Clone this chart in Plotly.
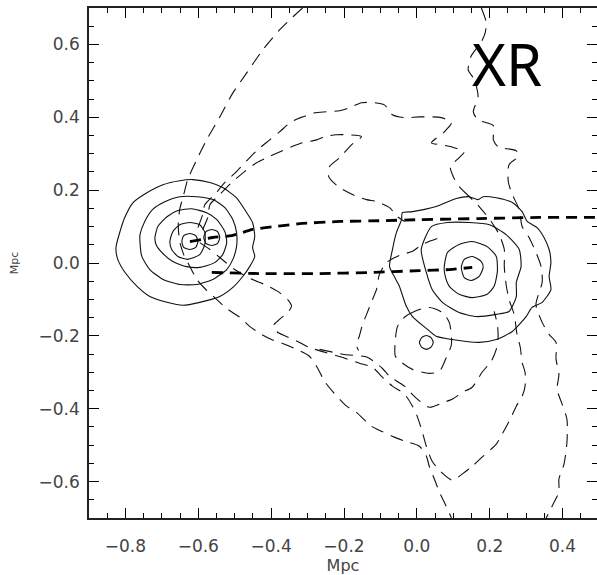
import plotly.graph_objects as go

# ---------------- data (Mpc) ----------------
# solid contours, left cluster
left_ring_1 = [(-0.826, 0.042), (-0.815, 0.086), (-0.801, 0.127), (-0.779, 0.166), (-0.741, 0.193),
               (-0.697, 0.215), (-0.651, 0.226), (-0.615, 0.229), (-0.568, 0.221), (-0.533, 0.207),
               (-0.495, 0.179), (-0.467, 0.138), (-0.451, 0.111), (-0.445, 0.073), (-0.451, 0.042),
               (-0.445, 0.018), (-0.459, -0.010), (-0.478, -0.037), (-0.505, -0.067), (-0.541, -0.092),
               (-0.596, -0.108), (-0.642, -0.116), (-0.686, -0.108), (-0.733, -0.092), (-0.768, -0.064),
               (-0.801, -0.026), (-0.821, 0.010), (-0.826, 0.042)]
left_ring_2 = [(-0.760, 0.078), (-0.747, 0.114), (-0.725, 0.147), (-0.692, 0.168), (-0.651, 0.182),
               (-0.604, 0.182), (-0.560, 0.174), (-0.527, 0.152), (-0.505, 0.119), (-0.495, 0.084),
               (-0.495, 0.045), (-0.505, 0.010), (-0.522, -0.018), (-0.560, -0.045), (-0.604, -0.059),
               (-0.651, -0.059), (-0.697, -0.045), (-0.733, -0.018), (-0.755, 0.018), (-0.760, 0.056),
               (-0.760, 0.078)]
left_ring_3 = [(-0.719, 0.070), (-0.711, 0.100), (-0.686, 0.127), (-0.656, 0.144), (-0.618, 0.149),
               (-0.577, 0.138), (-0.549, 0.119), (-0.527, 0.086), (-0.522, 0.056), (-0.533, 0.023),
               (-0.555, 0.001), (-0.596, -0.012), (-0.632, -0.010), (-0.670, 0.004), (-0.700, 0.029),
               (-0.716, 0.051), (-0.719, 0.070)]
left_ring_4 = [(-0.678, 0.059), (-0.670, 0.086), (-0.651, 0.105), (-0.623, 0.111), (-0.596, 0.105),
               (-0.582, 0.084), (-0.582, 0.051), (-0.596, 0.023), (-0.629, 0.010), (-0.656, 0.018),
               (-0.673, 0.037), (-0.678, 0.059)]
left_core = [(-0.645, 0.059), (-0.640, 0.075), (-0.623, 0.081), (-0.607, 0.075), (-0.601, 0.059),
             (-0.607, 0.043), (-0.623, 0.037), (-0.640, 0.043), (-0.645, 0.059)]
left_sub_core = [(-0.585, 0.070), (-0.579, 0.086), (-0.563, 0.092), (-0.547, 0.086), (-0.541, 0.070),
                 (-0.547, 0.054), (-0.563, 0.048), (-0.579, 0.054), (-0.585, 0.070)]

# solid contours, right cluster
right_ring_1 = [(-0.040, 0.138), (-0.012, 0.141), (0.053, 0.155), (0.108, 0.177), (0.144, 0.182),
                (0.168, 0.174), (0.182, 0.182), (0.218, 0.179), (0.262, 0.166), (0.289, 0.141),
                (0.303, 0.114), (0.330, 0.097), (0.349, 0.070), (0.363, 0.037), (0.368, 0.001),
                (0.363, -0.037), (0.368, -0.073), (0.344, -0.108), (0.316, -0.122), (0.300, -0.147),
                (0.262, -0.188), (0.218, -0.210), (0.171, -0.218), (0.097, -0.210), (0.053, -0.201),
                (0.029, -0.182), (-0.012, -0.147), (-0.029, -0.119), (-0.048, -0.064), (-0.062, -0.037),
                (-0.075, -0.010), (-0.067, 0.037), (-0.056, 0.084), (-0.042, 0.119), (-0.040, 0.138)]
right_ring_2 = [(0.012, 0.037), (0.040, 0.100), (0.084, 0.111), (0.144, 0.111), (0.199, 0.105),
                (0.245, 0.078), (0.281, 0.037), (0.286, -0.010), (0.273, -0.053), (0.273, -0.092),
                (0.253, -0.133), (0.218, -0.141), (0.163, -0.147), (0.116, -0.136), (0.070, -0.108),
                (0.042, -0.073), (0.026, -0.026), (0.012, 0.037)]
right_ring_3 = [(0.075, -0.012), (0.084, 0.029), (0.116, 0.051), (0.152, 0.059), (0.193, 0.045),
                (0.218, 0.018), (0.221, -0.023), (0.212, -0.064), (0.193, -0.086), (0.152, -0.095),
                (0.116, -0.086), (0.089, -0.064), (0.078, -0.037), (0.075, -0.012)]
right_core = [(0.122, -0.012), (0.130, 0.010), (0.152, 0.018), (0.177, 0.004), (0.182, -0.012),
              (0.171, -0.037), (0.149, -0.048), (0.130, -0.040), (0.122, -0.012)]
small_clump = [(0.007, -0.218), (0.013, -0.205), (0.026, -0.199), (0.039, -0.205), (0.045, -0.218),
               (0.039, -0.231), (0.026, -0.237), (0.013, -0.231), (0.007, -0.218)]

# thin dashed contours
arc_top_to_bottom = [(-0.314, 0.700), (-0.341, 0.675), (-0.377, 0.640), (-0.423, 0.585), (-0.467, 0.522),
                     (-0.505, 0.467), (-0.541, 0.401), (-0.577, 0.338), (-0.604, 0.284), (-0.629, 0.229),
                     (-0.640, 0.188), (-0.651, 0.147), (-0.655, 0.105), (-0.651, 0.059), (-0.640, 0.023),
                     (-0.623, -0.010), (-0.604, -0.045), (-0.582, -0.070), (-0.555, -0.095), (-0.522, -0.125),
                     (-0.486, -0.149), (-0.459, -0.174), (-0.426, -0.196), (-0.399, -0.210), (-0.363, -0.223),
                     (-0.330, -0.237), (-0.295, -0.256), (-0.275, -0.284), (-0.253, -0.325), (-0.232, -0.352),
                     (-0.193, -0.393), (-0.166, -0.410), (-0.125, -0.448), (-0.097, -0.462), (-0.062, -0.478),
                     (-0.034, -0.489), (0.007, -0.503), (0.026, -0.530), (0.034, -0.558), (0.048, -0.593),
                     (0.062, -0.629), (0.075, -0.656), (0.095, -0.700)]
upper_outer = [(-0.601, 0.097), (-0.588, 0.133), (-0.582, 0.160), (-0.555, 0.188), (-0.527, 0.221),
               (-0.495, 0.251), (-0.464, 0.284), (-0.437, 0.311), (-0.404, 0.338), (-0.377, 0.360),
               (-0.344, 0.388), (-0.314, 0.401), (-0.281, 0.412), (-0.248, 0.415), (-0.212, 0.418),
               (-0.185, 0.426), (-0.152, 0.440), (-0.116, 0.440), (-0.089, 0.434), (-0.067, 0.407),
               (-0.034, 0.399), (0.007, 0.401), (0.067, 0.399), (0.095, 0.385), (0.073, 0.358),
               (0.040, 0.330), (0.064, 0.325), (0.095, 0.319), (0.130, 0.305), (0.116, 0.289),
               (0.092, 0.264), (0.100, 0.237), (0.116, 0.210), (0.138, 0.188)]
upper_inner = [(-0.588, 0.092), (-0.574, 0.125), (-0.568, 0.160), (-0.541, 0.188), (-0.508, 0.221),
               (-0.473, 0.251), (-0.440, 0.275), (-0.412, 0.289), (-0.377, 0.305), (-0.344, 0.319),
               (-0.314, 0.330), (-0.275, 0.338), (-0.253, 0.347), (-0.221, 0.352), (-0.190, 0.352),
               (-0.152, 0.347), (-0.179, 0.325), (-0.212, 0.289), (-0.240, 0.264), (-0.242, 0.237),
               (-0.234, 0.226), (-0.212, 0.207), (-0.171, 0.185), (-0.138, 0.174), (-0.108, 0.168),
               (-0.075, 0.152), (-0.053, 0.127), (-0.034, 0.114)]
lower_loop = [(-0.596, 0.056), (-0.568, 0.037), (-0.541, 0.015), (-0.500, -0.018), (-0.459, -0.042),
              (-0.418, -0.059), (-0.382, -0.078), (-0.355, -0.100), (-0.344, -0.119), (-0.355, -0.136),
              (-0.377, -0.155), (-0.393, -0.171), (-0.385, -0.188), (-0.360, -0.201), (-0.322, -0.218),
              (-0.295, -0.232), (-0.253, -0.245), (-0.226, -0.253), (-0.190, -0.264), (-0.158, -0.275),
              (-0.122, -0.286), (-0.097, -0.311), (-0.067, -0.338), (-0.034, -0.360), (-0.012, -0.393),
              (0.001, -0.421), (0.015, -0.464), (0.026, -0.503), (0.042, -0.544), (0.070, -0.577),
              (0.097, -0.596), (0.125, -0.579), (0.152, -0.558), (0.179, -0.533), (0.218, -0.497),
              (0.234, -0.470), (0.259, -0.423), (0.273, -0.393), (0.289, -0.366), (0.297, -0.338),
              (0.297, -0.300), (0.289, -0.273), (0.284, -0.232), (0.275, -0.196), (0.267, -0.141),
              (0.253, -0.100), (0.245, -0.059), (0.240, -0.010), (0.240, 0.037), (0.226, 0.078),
              (0.204, 0.114), (0.171, 0.155), (0.138, 0.188)]
lower_inner = [(-0.267, -0.237), (-0.199, -0.251), (-0.136, -0.259), (-0.095, -0.289), (-0.075, -0.311),
               (-0.034, -0.338), (-0.007, -0.366), (0.034, -0.396), (0.075, -0.382), (0.097, -0.374),
               (0.125, -0.355), (0.152, -0.341), (0.179, -0.300), (0.204, -0.270), (0.218, -0.237),
               (0.223, -0.204), (0.221, -0.168), (0.212, -0.133)]
middle_branch = [(0.056, 0.067), (0.015, 0.051), (-0.012, 0.032), (-0.048, 0.021), (-0.084, 0.001),
                 (-0.103, -0.032), (-0.111, -0.073), (-0.125, -0.108), (-0.138, -0.141), (-0.149, -0.168),
                 (-0.158, -0.201), (-0.166, -0.226), (-0.160, -0.240)]
clump_loop = [(0.034, -0.122), (-0.007, -0.133), (-0.034, -0.149), (-0.053, -0.174), (-0.059, -0.210),
              (-0.059, -0.256), (-0.042, -0.273), (-0.012, -0.292), (0.034, -0.303), (0.062, -0.297),
              (0.081, -0.259), (0.095, -0.223), (0.089, -0.163), (0.070, -0.136), (0.034, -0.122)]
right_edge_line = [(0.177, 0.700), (0.190, 0.662), (0.188, 0.634), (0.177, 0.607), (0.149, 0.568),
                   (0.141, 0.530), (0.158, 0.503), (0.168, 0.456), (0.155, 0.415), (0.168, 0.393),
                   (0.210, 0.377), (0.210, 0.338), (0.223, 0.319), (0.273, 0.308), (0.278, 0.292),
                   (0.253, 0.270), (0.251, 0.223), (0.262, 0.188), (0.281, 0.147), (0.289, 0.100),
                   (0.308, 0.070), (0.327, 0.029), (0.341, -0.010), (0.344, -0.053), (0.327, -0.114),
                   (0.344, -0.163), (0.363, -0.196), (0.382, -0.218), (0.382, -0.264), (0.390, -0.305),
                   (0.385, -0.347), (0.399, -0.388), (0.412, -0.429), (0.412, -0.492), (0.404, -0.552),
                   (0.390, -0.593), (0.390, -0.629), (0.377, -0.656), (0.355, -0.700)]

# thick dashed tracks
track_upper = [(-0.623, 0.059), (-0.560, 0.070), (-0.508, 0.075), (-0.451, 0.092), (-0.390, 0.100),
               (-0.322, 0.108), (-0.212, 0.114), (-0.103, 0.116), (0.007, 0.119), (0.171, 0.122),
               (0.336, 0.125), (0.500, 0.125)]
track_lower = [(-0.563, -0.026), (-0.432, -0.029), (-0.267, -0.029), (-0.130, -0.026), (0.007, -0.021),
               (0.089, -0.018), (0.152, -0.012)]

solid_contours = [left_ring_1, left_ring_2, left_ring_3, left_ring_4, left_core, left_sub_core,
                  right_ring_1, right_ring_2, right_ring_3, right_core, small_clump]
dashed_contours = [arc_top_to_bottom, upper_outer, upper_inner, lower_loop, lower_inner,
                   middle_branch, clump_loop, right_edge_line]
tracks = [track_upper, track_lower]

x_range = [-0.9, 0.4945]
y_range = [-0.7, 0.7]
label_text = "XR"

# ---------------- figure ----------------
fig = go.Figure()
for c in solid_contours:
    fig.add_trace(go.Scatter(x=[p[0] for p in c], y=[p[1] for p in c], mode="lines",
                             line=dict(color="#111", width=1.1, shape="spline", smoothing=0.6),
                             hoverinfo="skip", showlegend=False))
for c in dashed_contours:
    fig.add_trace(go.Scatter(x=[p[0] for p in c], y=[p[1] for p in c], mode="lines",
                             line=dict(color="#111", width=1.1, dash="13px,8px", shape="spline", smoothing=0.7),
                             hoverinfo="skip", showlegend=False))
for c in tracks:
    fig.add_trace(go.Scatter(x=[p[0] for p in c], y=[p[1] for p in c], mode="lines",
                             line=dict(color="#000", width=2.8, dash="11px,7px", shape="spline", smoothing=0.5),
                             hoverinfo="skip", showlegend=False))

# invisible trace tying the mirror axes (top / right) to the same scales
fig.add_trace(go.Scatter(x=x_range, y=y_range, mode="markers", marker=dict(opacity=0),
                         xaxis="x2", yaxis="y2", hoverinfo="skip", showlegend=False))

fig.add_annotation(x=0.247, y=0.547, xref="x", yref="y", text=label_text, showarrow=False,
                   font=dict(family="Noto Sans", size=58, color="#000"),
                   xanchor="center", yanchor="middle")

tick_style = dict(ticks="inside", ticklen=10, tickwidth=1.4, tickcolor="#000", dtick=0.2, tick0=0,
                  minor=dict(dtick=0.05, tick0=0, ticks="inside", ticklen=5, tickwidth=1.3, tickcolor="#000"))
axis_common = dict(showgrid=False, zeroline=False, showline=True, linecolor="#222", linewidth=1.5,
                   tickformat=".1f", tickfont=dict(family="DejaVu Sans", size=17, color="#444"), **tick_style)

fig.update_layout(
    xaxis=dict(range=x_range, mirror=True,
               title=dict(text="Mpc", font=dict(family="DejaVu Sans", size=16, color="#444"), standoff=4),
               ticklabelstandoff=12, **axis_common),
    yaxis=dict(range=y_range, mirror=False,
               title=dict(text="Mpc", font=dict(family="DejaVu Sans", size=11, color="#444"), standoff=18),
               ticklabelstandoff=4, **axis_common),
    xaxis2=dict(range=x_range, overlaying="x", side="top", showticklabels=False, showgrid=False,
                zeroline=False, showline=False, **tick_style),
    yaxis2=dict(range=y_range, overlaying="y", side="right", showticklabels=False, showgrid=False,
                zeroline=False, showline=False, **tick_style),
    width=597, height=575, margin=dict(l=89, r=0, t=8, b=57),
    plot_bgcolor="white", paper_bgcolor="white")

fig.write_html("out.html")
